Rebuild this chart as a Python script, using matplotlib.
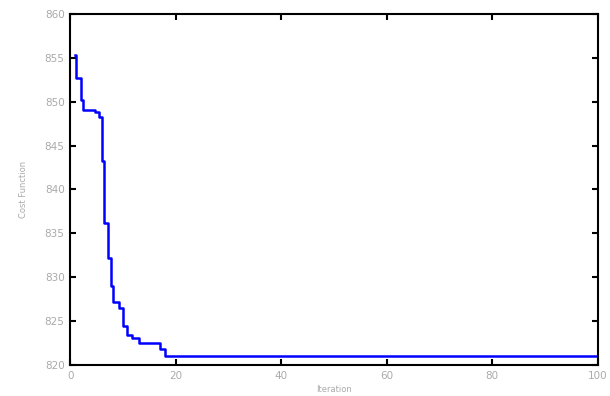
import matplotlib
matplotlib.use("Agg")
import matplotlib.pyplot as plt

# breakpoints of the cost curve (iteration where a new value starts, cost)
iterations = [1.0, 1.2, 2.0, 2.4, 4.7, 5.5, 6.0, 6.5, 7.2, 7.7, 8.2, 9.2,
              10.0, 10.7, 11.7, 13.0, 17.0, 18.0, 100.0]
cost = [855.3, 852.7, 850.2, 849.1, 848.8, 848.3, 843.2, 836.2, 832.2, 829.0,
        827.2, 826.5, 824.4, 823.4, 823.1, 822.5, 821.8, 821.0, 821.0]

x_ticks = [0, 20, 40, 60, 80, 100]
y_ticks = [820, 825, 830, 835, 840, 845, 850, 855, 860]

fig = plt.figure(figsize=(6.1, 3.96), dpi=100)
ax = fig.add_axes([0.115, 0.078, 0.865, 0.887])

ax.plot(iterations, cost, color="#0000ff", linewidth=1.8, drawstyle="steps-post")

ax.set_xlim(0, 100)
ax.set_ylim(820, 860)
ax.set_xticks(x_ticks)
ax.set_yticks(y_ticks)
ax.tick_params(direction="in", top=True, right=True, labelsize=7.5,
               labelcolor="#aaaaaa", length=4, width=1.5, pad=4)
for s in ax.spines.values():
    s.set_linewidth(1.5)

ax.set_xlabel("Iteration", fontsize=6, color="#aaaaaa", labelpad=3)
ax.set_ylabel("Cost Function", fontsize=6, color="#aaaaaa", labelpad=12)

fig.savefig("out.png")
